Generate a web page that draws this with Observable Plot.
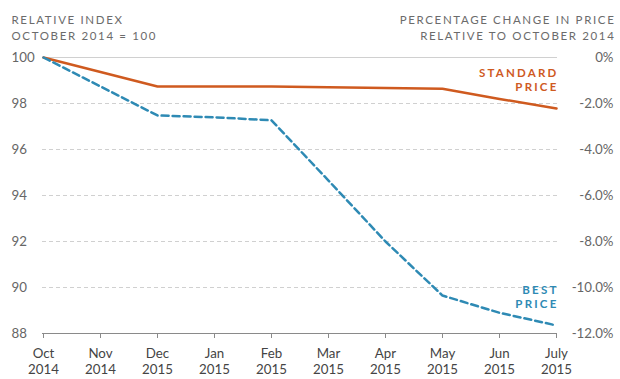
<!DOCTYPE html>
<html><head><meta charset="utf-8">
<script src="https://cdn.jsdelivr.net/npm/d3@7"></script>
<script src="https://cdn.jsdelivr.net/npm/@observablehq/plot@0.6"></script>
<style>
body{margin:0;background:#fff}
svg{font-family:Lato,"Open Sans",sans-serif}
text.hdr, .hdr tspan{letter-spacing:1.65px}
text.lbl, .lbl tspan{letter-spacing:2.2px;font-weight:bold}
</style></head>
<body><div id="chart"></div>
<script>
const months = ["Oct\n2014","Nov\n2014","Dec\n2015","Jan\n2015","Feb\n2015","Mar\n2015","Apr\n2015","May\n2015","Jun\n2015","July\n2015"];
const standardPrice = [100, 99.37, 98.74, 98.74, 98.74, 98.71, 98.67, 98.64, 98.2, 97.78];
const bestPrice = [100, 98.74, 97.48, 97.4, 97.27, 94.65, 92.0, 89.65, 88.9, 88.35];
const indexTicks = [100, 98, 96, 94, 92, 90, 88];
const percentLabels = ["0%", "-2.0%", "-4.0%", "-6.0%", "-8.0%", "-10.0%", "-12.0%"];
const leftTitle = "RELATIVE INDEX\nOCTOBER 2014 = 100";
const rightTitle = "PERCENTAGE CHANGE IN PRICE\nRELATIVE TO OCTOBER 2014";
const standardLabel = "STANDARD\nPRICE";
const bestLabel = "BEST\nPRICE";

const orange = "#cf5a1f";
const blue = "#2e8ab4";

const std = months.map((m, i) => ({month: m, value: standardPrice[i]}));
const best = months.map((m, i) => ({month: m, value: bestPrice[i]}));
const ticks = indexTicks.map((v, i) => ({v, pct: percentLabels[i]}));

const chart = Plot.plot({
  width: 620,
  height: 379,
  marginLeft: 42,
  marginRight: 63,
  marginTop: 57,
  marginBottom: 46,
  x: {type: "point", domain: months, padding: 0, label: null},
  y: {domain: [88, 100], axis: null},
  marks: [
    Plot.ruleY(indexTicks.filter(v => v < 100 && v > 88), {stroke: "#d0d0d0", strokeDasharray: "4,3"}),
    Plot.ruleY([100], {stroke: "#d0d0d0"}),
    Plot.ruleY([88], {stroke: "#8a8a8a"}),
    Plot.axisX({tickSize: 5, tickPadding: 8, stroke: "#8a8a8a", fill: "#444", fontSize: 13.3, lineHeight: 1.2, tickFormat: d => d, label: null}),
    Plot.text(ticks, {y: "v", text: d => String(d.v), frameAnchor: "left", dx: -31, textAnchor: "start", fill: "#666", fontSize: 13.3}),
    Plot.text(ticks, {y: "v", text: "pct", frameAnchor: "right", dx: 56, textAnchor: "end", fill: "#666", fontSize: 13.3}),
    Plot.line(std, {x: "month", y: "value", stroke: orange, strokeWidth: 2.5}),
    Plot.line(best, {x: "month", y: "value", stroke: blue, strokeWidth: 2.5, strokeDasharray: "7,4"}),
    Plot.text([standardLabel], {x: () => months[months.length - 1], y: () => 99.05, textAnchor: "end", dx: 2, fill: orange, fontSize: 11.5, lineHeight: 1.25}),
    Plot.text([bestLabel], {x: () => months[months.length - 1], y: () => 89.62, textAnchor: "end", dx: 2, fill: blue, fontSize: 11.5, lineHeight: 1.2}),
    Plot.text([leftTitle], {frameAnchor: "top-left", dx: -31, dy: -45, lineAnchor: "top", textAnchor: "start", fill: "#6b6b6b", fontSize: 11.5, lineHeight: 1.4}),
    Plot.text([rightTitle], {frameAnchor: "top-right", dx: 58, dy: -45, lineAnchor: "top", textAnchor: "end", fill: "#6b6b6b", fontSize: 11.5, lineHeight: 1.4})
  ]
});
d3.select(chart).selectAll("text").each(function() {
  const t = this.textContent;
  if (t.startsWith("RELATIVE") || t.startsWith("PERCENTAGE")) this.classList.add("hdr");
  if (t.startsWith("STANDARD") || t.startsWith("BEST")) this.classList.add("lbl");
});
document.getElementById("chart").appendChild(chart);
</script>
</body></html>
